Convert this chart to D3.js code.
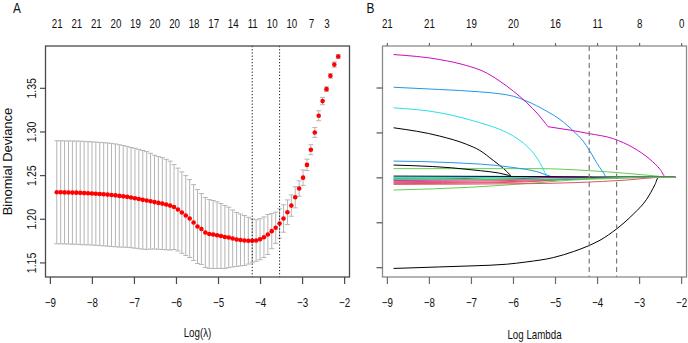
<!DOCTYPE html>
<html>
<head>
<meta charset="utf-8">
<script src="https://cdn.jsdelivr.net/npm/d3@7"></script>
<style>
  body { margin: 0; background: #fff; }
  svg { display: block; }
</style>
</head>
<body>
<div id="chart"></div>
<script>
// ---- data ----
// lambda path, largest lambda first (glmnet order)
const logLambda = [
  -2.140, -2.233, -2.326, -2.419, -2.512, -2.605, -2.698, -2.791, -2.884, -2.977,
  -3.070, -3.163, -3.256, -3.349, -3.442, -3.535, -3.628, -3.721, -3.814, -3.907,
  -4.000, -4.093, -4.186, -4.279, -4.372, -4.465, -4.558, -4.651, -4.744, -4.837,
  -4.930, -5.023, -5.116, -5.209, -5.302, -5.395, -5.488, -5.581, -5.674, -5.767,
  -5.860, -5.953, -6.046, -6.139, -6.232, -6.325, -6.418, -6.511, -6.604, -6.697,
  -6.790, -6.883, -6.976, -7.069, -7.162, -7.255, -7.348, -7.441, -7.534, -7.627,
  -7.720, -7.813, -7.906, -7.999, -8.092, -8.185, -8.278, -8.371, -8.464, -8.557,
  -8.650, -8.743, -8.836
];
// mean cross-validated binomial deviance
const cvm = [
  1.3858, 1.3766, 1.3637, 1.3485, 1.3348, 1.3180, 1.2989, 1.2791, 1.2617, 1.2471,
  1.2346, 1.2246, 1.2151, 1.2075, 1.2003, 1.1946, 1.1897, 1.1858, 1.1820, 1.1789,
  1.1766, 1.1751, 1.1748, 1.1749, 1.1751, 1.1757, 1.1763, 1.1774, 1.1786, 1.1791,
  1.1803, 1.1812, 1.1820, 1.1826, 1.1843, 1.1883, 1.1911, 1.1957, 1.2003, 1.2037,
  1.2071, 1.2106, 1.2134, 1.2151, 1.2163, 1.2174, 1.2182, 1.2191, 1.2201, 1.2209,
  1.2217, 1.2226, 1.2235, 1.2243, 1.2251, 1.2257, 1.2262, 1.2268, 1.2273, 1.2277,
  1.2281, 1.2284, 1.2287, 1.2290, 1.2292, 1.2294, 1.2297, 1.2299, 1.2300, 1.2301,
  1.2302, 1.2303, 1.2303
];
// standard error of cvm
const cvsd = [
  0.0023, 0.0030, 0.0026, 0.0027, 0.0042, 0.0057, 0.0057, 0.0057, 0.0065, 0.0088,
  0.0088, 0.0121, 0.0122, 0.0141, 0.0157, 0.0168, 0.0179, 0.0201, 0.0229, 0.0232,
  0.0235, 0.0238, 0.0252, 0.0268, 0.0286, 0.0297, 0.0309, 0.0326, 0.0346, 0.0360,
  0.0371, 0.0381, 0.0389, 0.0394, 0.0400, 0.0406, 0.0423, 0.0434, 0.0446, 0.0457,
  0.0466, 0.0474, 0.0486, 0.0509, 0.0518, 0.0526, 0.0531, 0.0537, 0.0549, 0.0560,
  0.0565, 0.0569, 0.0572, 0.0574, 0.0578, 0.0582, 0.0586, 0.0589, 0.0591, 0.0591,
  0.0591, 0.0591, 0.0591, 0.0591, 0.0591, 0.0592, 0.0592, 0.0591, 0.0591, 0.0590,
  0.0590, 0.0590, 0.0590
];
const idxMin = 22;   // lambda.min
const idx1se = 15;   // lambda.1se

// number of non-zero coefficients shown on top of panel A
const nzTopIdx = [72, 67, 62, 57, 52, 47, 42, 37, 32, 27, 22, 17, 12, 7, 3];
const nzTopA = [21, 21, 21, 20, 19, 20, 20, 18, 17, 14, 11, 10, 10, 7, 3];

const xTicks = [-9, -8, -7, -6, -5, -4, -3, -2];
const yTicksA = [1.15, 1.20, 1.25, 1.30, 1.35];
const nzTopB = [21, 21, 19, 20, 16, 11, 8, 0];
const yTicksB = [-1, -0.5, 0, 0.5, 1];

// R default palette, cycled by matplot
const coefColors = ["#000000", "#DF536B", "#61D04F", "#2297E6", "#28E2E5", "#CD0BBC"];

// coefficient paths, [log lambda, coefficient] knots, variable 1..21
const coefPaths = [
  [[-8.84, 0.552], [-7.74, 0.459], [-7.10, 0.367], [-6.79, 0.300], [-6.47, 0.189], [-6.23, 0.100], [-6.07, 0.028], [-6.02, 0]],
  [[-8.84, -0.059], [-6.5, -0.052], [-5.0, -0.030], [-3.6, 0]],
  [[-8.84, 0.097], [-5.4, 0.097], [-4.2, 0.075], [-3.3, 0.045], [-2.6, 0.015], [-2.2, 0]],
  [[-8.84, 1.003], [-7.74, 0.978], [-6.79, 0.952], [-6.31, 0.930], [-5.99, 0.903], [-5.67, 0.848], [-5.20, 0.737], [-4.88, 0.644], [-4.56, 0.514], [-4.33, 0.403], [-4.17, 0.292], [-4.01, 0.163], [-3.85, 0.052], [-3.77, 0]],
  [[-8.84, 0.774], [-7.74, 0.719], [-6.79, 0.608], [-6.31, 0.533], [-5.99, 0.459], [-5.67, 0.348], [-5.52, 0.274], [-5.36, 0.163], [-5.24, 0.052], [-5.19, 0]],
  [[-8.84, 1.367], [-7.74, 1.311], [-7.10, 1.244], [-6.71, 1.181], [-6.31, 1.070], [-5.99, 0.959], [-5.67, 0.830], [-5.40, 0.700], [-5.22, 0.597], [-5.16, 0.563], [-5.10, 0.559], [-4.64, 0.526], [-4.21, 0.489], [-3.61, 0.430], [-3.14, 0.330], [-2.74, 0.200], [-2.50, 0.089], [-2.36, 0]],
  [[-8.84, -1.014], [-7.74, -0.997], [-6.95, -0.985], [-6.15, -0.967], [-5.67, -0.941], [-5.04, -0.893], [-4.56, -0.826], [-4.21, -0.763], [-3.93, -0.700], [-3.53, -0.572], [-3.14, -0.411], [-2.82, -0.244], [-2.62, -0.078], [-2.54, 0]],
  [[-8.84, -0.070], [-6.5, -0.060], [-5.0, -0.030], [-4.6, 0]],
  [[-8.84, -0.141], [-7.0, -0.110], [-5.4, -0.059], [-4.6, -0.030], [-3.5, -0.012], [-2.3, 0]],
  [[-8.84, 0.181], [-7.5, 0.165], [-6.0, 0.110], [-5.4, 0.059], [-5.12, 0.014], [-5.0, 0]],
  [[-8.84, -0.011], [-6.0, -0.008], [-3.7, 0]],
  [[-8.84, -0.028], [-7.5, -0.020], [-6.5, 0]],
  [[-8.84, 0.137], [-7.0, 0.085], [-6.1, 0.022], [-6.0, 0]],
  [[-8.84, -0.048], [-6.0, -0.035], [-3.3, 0]],
  [[-8.84, -0.006], [-5.0, -0.004], [-3.0, 0]],
  [[-8.84, -0.018], [-5.0, -0.025], [-3.4, 0]],
  [[-8.84, -0.003], [-5.5, 0]],
  [[-8.84, -0.033], [-6.5, -0.025], [-4.8, 0]],
  [[-8.84, 0.014], [-6.0, 0.010], [-4.2, 0.004], [-4.1, 0]],
  [[-8.84, -0.078], [-5.6, -0.070], [-3.3, -0.030], [-2.45, 0]],
  [[-8.84, -0.025], [-5.3, -0.020], [-2.9, 0]]
];

// ---- drawing ----
const width = 688, height = 343;
const font = "'Liberation Sans', Arial, sans-serif";
const sx = 0.78; // the figure text is squeezed horizontally

const svg = d3.select("#chart").append("svg")
  .attr("width", width)
  .attr("height", height)
  .style("font-family", font);

// R style: range plus 4% on each side
function rExtend([a, b]) {
  const d = (b - a) * 0.04;
  return [a - d, b + d];
}

const plotTop = 46, plotBottom = 277;

function styleAxis(g, color) {
  g.select(".domain").remove();
  g.attr("font-family", font).attr("font-size", 12.5);
  g.selectAll(".tick line").attr("stroke", color).attr("stroke-width", 1.2);
  g.selectAll(".tick text").attr("fill", "#111");
}

// ===== panel A =====
const xA = d3.scaleLinear().domain(rExtend(d3.extent(logLambda))).range([45.5, 349.5]);
const yA = d3.scaleLinear()
  .domain(rExtend([d3.min(cvm, (d, i) => d - cvsd[i]), d3.max(cvm, (d, i) => d + cvsd[i])]))
  .range([plotBottom, plotTop]);

const gA = svg.append("g");

// error bars
const bars = gA.append("g").attr("stroke", "#b5b5b5").attr("stroke-width", 1);
logLambda.forEach((L, i) => {
  const x = xA(L), y1 = yA(cvm[i] + cvsd[i]), y2 = yA(cvm[i] - cvsd[i]);
  bars.append("line").attr("x1", x).attr("x2", x).attr("y1", y1).attr("y2", y2);
  bars.append("line").attr("x1", x - 2.5).attr("x2", x + 2.5).attr("y1", y1).attr("y2", y1);
  bars.append("line").attr("x1", x - 2.5).attr("x2", x + 2.5).attr("y1", y2).attr("y2", y2);
});

// mean deviance
gA.append("g").selectAll("circle")
  .data(logLambda)
  .join("circle")
  .attr("cx", d => xA(d))
  .attr("cy", (d, i) => yA(cvm[i]))
  .attr("r", 2.3)
  .attr("fill", "#ff0000");

// lambda.min / lambda.1se
gA.append("g").selectAll("line")
  .data([idxMin, idx1se])
  .join("line")
  .attr("x1", d => xA(logLambda[d]))
  .attr("x2", d => xA(logLambda[d]))
  .attr("y1", plotTop).attr("y2", plotBottom)
  .attr("stroke", "#111")
  .attr("stroke-width", 1)
  .attr("stroke-dasharray", "1.2,2");

gA.append("rect")
  .attr("x", xA.range()[0]).attr("y", plotTop)
  .attr("width", xA.range()[1] - xA.range()[0]).attr("height", plotBottom - plotTop)
  .attr("fill", "none").attr("stroke", "#4a4a4a").attr("stroke-width", 1.3);

const axBA = gA.append("g").attr("transform", `translate(0,${plotBottom})`)
  .call(d3.axisBottom(xA).tickValues(xTicks).tickSize(7).tickPadding(14).tickFormat(d3.format("d")));
styleAxis(axBA, "#4a4a4a");
axBA.selectAll(".tick text").attr("transform", `scale(${sx},1)`);

const axLA = gA.append("g").attr("transform", `translate(${xA.range()[0]},0)`)
  .call(d3.axisLeft(yA).tickValues(yTicksA).tickSize(5.5).tickFormat(d3.format(".2f")));
styleAxis(axLA, "#4a4a4a");
axLA.selectAll(".tick text")
  .attr("x", 0).attr("dy", null)
  .attr("text-anchor", "middle")
  .attr("font-size", 12)
  .attr("transform", "translate(-10,0) rotate(-90) scale(0.88,1)");

const axTA = gA.append("g").attr("transform", `translate(0,${plotTop})`)
  .call(d3.axisTop(xA)
    .tickValues(nzTopIdx.map(i => logLambda[i]))
    .tickSize(0).tickPadding(17.7)
    .tickFormat((d, i) => nzTopA[i]));
styleAxis(axTA, "none");
axTA.selectAll(".tick text").attr("transform", `scale(${sx},1)`);

gA.append("text")
  .attr("transform", `translate(${(xA.range()[0] + xA.range()[1]) / 2},336.5) scale(${sx},1)`)
  .attr("text-anchor", "middle").attr("font-size", 12.5).attr("fill", "#111")
  .text("Log(λ)");

gA.append("text")
  .attr("transform", `translate(12,${(plotTop + plotBottom) / 2}) rotate(-90)`)
  .attr("text-anchor", "middle").attr("font-size", 13).attr("fill", "#111")
  .text("Binomial Deviance");

svg.append("text")
  .attr("transform", "translate(13,13) scale(0.85,1)")
  .attr("font-size", 14).attr("fill", "#111")
  .text("A");

// ===== panel B =====
const allKnots = coefPaths.flat();
const xB = d3.scaleLinear().domain(rExtend(d3.extent(logLambda))).range([382.5, 686.5]);
const yB = d3.scaleLinear().domain(rExtend(d3.extent(allKnots, d => d[1]))).range([plotBottom, plotTop]);

const gB = svg.append("g");
const lineB = d3.line().curve(d3.curveMonotoneX).x(d => xB(d[0])).y(d => yB(d[1]));

gB.append("g").attr("fill", "none").attr("stroke-width", 1)
  .selectAll("path")
  .data(coefPaths)
  .join("path")
  .attr("stroke", (d, i) => coefColors[i % coefColors.length])
  .attr("d", d => lineB([...d, [logLambda[0], 0]]));

gB.append("g").selectAll("line")
  .data([idxMin, idx1se])
  .join("line")
  .attr("x1", d => xB(logLambda[d]))
  .attr("x2", d => xB(logLambda[d]))
  .attr("y1", plotTop).attr("y2", plotBottom)
  .attr("stroke", "#7a7a7a")
  .attr("stroke-width", 1.2)
  .attr("stroke-dasharray", "5,3.5");

gB.append("rect")
  .attr("x", xB.range()[0]).attr("y", plotTop)
  .attr("width", xB.range()[1] - xB.range()[0]).attr("height", plotBottom - plotTop)
  .attr("fill", "none").attr("stroke", "#8a8a8a").attr("stroke-width", 1.3);

const axBB = gB.append("g").attr("transform", `translate(0,${plotBottom})`)
  .call(d3.axisBottom(xB).tickValues(xTicks).tickSize(7).tickPadding(14).tickFormat(d3.format("d")));
styleAxis(axBB, "#6a6a6a");
axBB.selectAll(".tick text").attr("transform", `scale(${sx},1)`);

const axLB = gB.append("g").attr("transform", `translate(${xB.range()[0]},0)`)
  .call(d3.axisLeft(yB).tickValues(yTicksB).tickSize(6).tickFormat(() => ""));
styleAxis(axLB, "#555");

const axTB = gB.append("g").attr("transform", `translate(0,${plotTop})`)
  .call(d3.axisTop(xB).tickValues(xTicks).tickSize(3).tickPadding(14.7)
    .tickFormat((d, i) => nzTopB[i]));
styleAxis(axTB, "#6a6a6a");
axTB.selectAll(".tick text").attr("transform", `scale(${sx},1)`);

gB.append("text")
  .attr("transform", `translate(${(xB.range()[0] + xB.range()[1]) / 2},339) scale(${sx},1)`)
  .attr("text-anchor", "middle").attr("font-size", 12.5).attr("fill", "#111")
  .text("Log Lambda");

svg.append("text")
  .attr("transform", "translate(366.5,13) scale(0.85,1)")
  .attr("font-size", 14).attr("fill", "#111")
  .text("B");
</script>
</body>
</html>
